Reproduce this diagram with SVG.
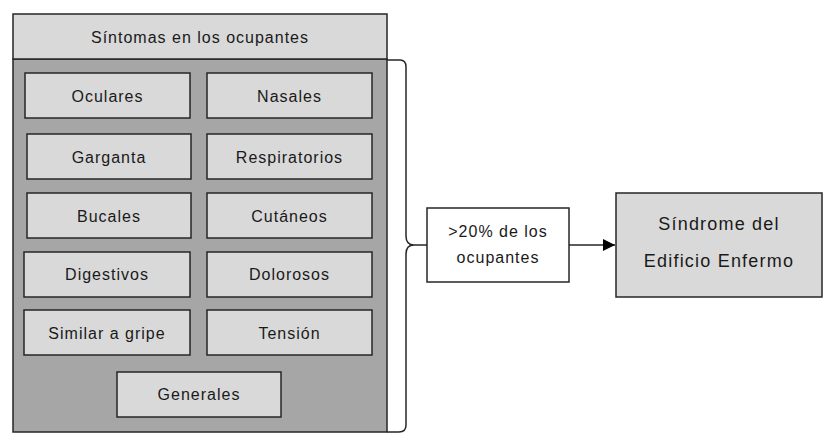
<svg xmlns="http://www.w3.org/2000/svg" width="836" height="440" viewBox="0 0 836 440">
<defs>
<style>
text{font-family:"Liberation Sans",Arial,sans-serif;font-size:16px;fill:#1a1a1a;text-anchor:middle;dominant-baseline:central;letter-spacing:1px}
.box{fill:#d9d9d9;stroke:#262626;stroke-width:1.5}
.body{fill:#a6a6a6;stroke:#262626;stroke-width:1.5}
.white{fill:#ffffff;stroke:#262626;stroke-width:1.5}
.big{font-size:18px;letter-spacing:1.2px}
.conn{fill:none;stroke:#262626;stroke-width:1.5}
</style>
<marker id="arr" viewBox="0 0 10 10" refX="10" refY="5" markerWidth="12" markerHeight="12" markerUnits="userSpaceOnUse" orient="auto">
<path d="M0,0 L10,5 L0,10 z" fill="#000"/>
</marker>
</defs>
<g id="grupo">
<rect class="body" x="13" y="59" width="374" height="373"/>
<rect class="box" x="13" y="14" width="374" height="45"/>
<text x="200" y="37">Síntomas en los ocupantes</text>
</g>
<g id="oculares"><rect class="box" x="25" y="73" width="165" height="45"/><text x="107.5" y="96">Oculares</text></g>
<g id="nasales"><rect class="box" x="207" y="73" width="165" height="45"/><text x="289.5" y="96">Nasales</text></g>
<g id="garganta"><rect class="box" x="27" y="134" width="164" height="45"/><text x="109" y="157">Garganta</text></g>
<g id="respiratorios"><rect class="box" x="207" y="134" width="165" height="45"/><text x="289.5" y="157">Respiratorios</text></g>
<g id="bucales"><rect class="box" x="27" y="193" width="164" height="45"/><text x="109" y="216">Bucales</text></g>
<g id="cutaneos"><rect class="box" x="207" y="193" width="165" height="45"/><text x="289.5" y="216">Cutáneos</text></g>
<g id="digestivos"><rect class="box" x="24" y="252" width="166" height="45"/><text x="107" y="274">Digestivos</text></g>
<g id="dolorosos"><rect class="box" x="207" y="252" width="165" height="45"/><text x="289.5" y="274">Dolorosos</text></g>
<g id="gripe"><rect class="box" x="24" y="310" width="166" height="45"/><text x="107" y="333">Similar a gripe</text></g>
<g id="tension"><rect class="box" x="207" y="310" width="165" height="45"/><text x="289.5" y="333">Tensión</text></g>
<g id="generales"><rect class="box" x="117" y="372" width="164" height="45"/><text x="199" y="394">Generales</text></g>
<g id="umbral"><rect class="white" x="427" y="208" width="142" height="74"/><text x="498" y="231">&gt;20% de los</text><text x="498" y="257">ocupantes</text></g>
<g id="sindrome"><rect class="box" x="616" y="193" width="206" height="104"/><text class="big" x="719" y="224">Síndrome del</text><text class="big" x="719" y="261">Edificio Enfermo</text></g>
<g id="conectores">
<path class="conn" d="M387,60 L400,60 Q406,60 406,67 L406,236 Q406,245 414,245 Q406,245 406,254 L406,425 Q406,432 399,432 L387,432"/>
<line class="conn" x1="414" y1="245" x2="427" y2="245"/>
<line class="conn" x1="569" y1="245" x2="615" y2="245" marker-end="url(#arr)"/>
</g>
</svg>
